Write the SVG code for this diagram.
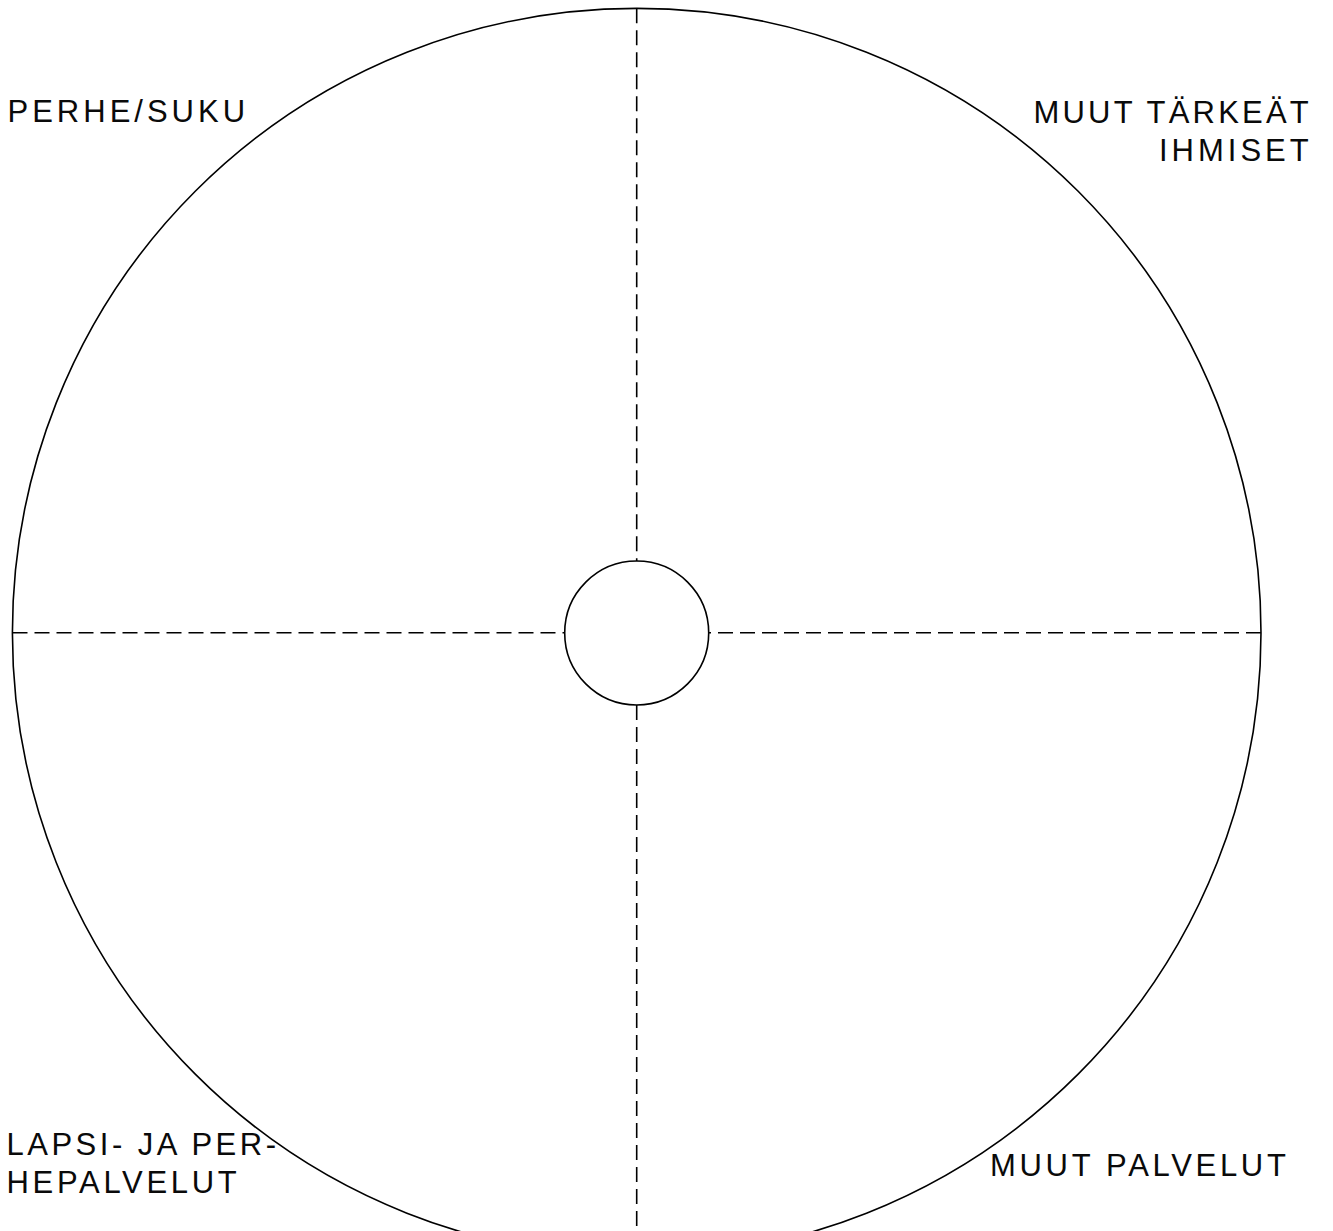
<svg xmlns="http://www.w3.org/2000/svg" width="1333" height="1231" viewBox="0 0 1333 1231">
<style>
.ring{fill:none;stroke:#000;stroke-width:1.6}
.div{stroke:#000;stroke-width:1.6;stroke-dasharray:15 7;fill:none}
.lbl{font-family:"Liberation Sans",Arial,sans-serif;font-size:31px;letter-spacing:3.7px;fill:#0a0a0a}
</style>
<rect width="1333" height="1231" fill="#fff"/>
<g id="connectors">
<line class="div" x1="636.7" y1="8.3" x2="636.7" y2="561"/>
<line class="div" x1="636.7" y1="705" x2="636.7" y2="1231"/>
<line class="div" x1="12.5" y1="632.7" x2="564" y2="632.7"/>
<line class="div" x1="1261" y1="632.7" x2="709" y2="632.7"/>
</g>
<g id="outer-circle"><circle class="ring" cx="636.7" cy="632.7" r="624.3"/></g>
<g id="center-circle"><circle class="ring" cx="636.7" cy="633" r="72"/></g>
<g id="label-perhe"><text class="lbl" x="7.5" y="121.7" style="letter-spacing:4px">PERHE/SUKU</text></g>
<g id="label-muut-tarkeat"><text class="lbl" x="1033.5" y="123.3" style="letter-spacing:3.2px">MUUT TÄRKEÄT</text><text class="lbl" x="1159" y="161" style="letter-spacing:4px">IHMISET</text></g>
<g id="label-lapsi"><text class="lbl" x="6.5" y="1155" style="letter-spacing:3.5px">LAPSI- JA PER-</text><text class="lbl" x="6.5" y="1193">HEPALVELUT</text></g>
<g id="label-muut-palvelut"><text class="lbl" x="990" y="1176">MUUT PALVELUT</text></g>
</svg>
